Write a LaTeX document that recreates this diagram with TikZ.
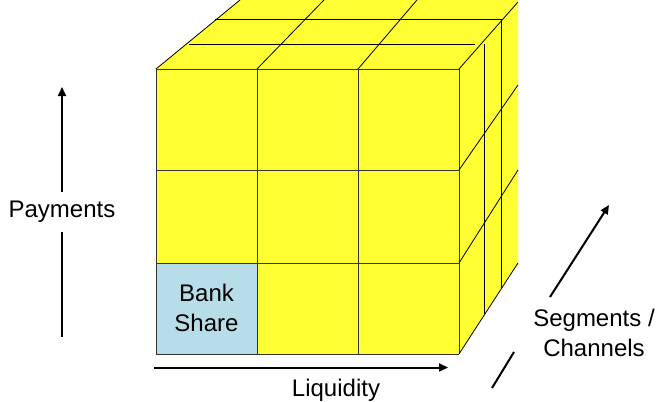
\documentclass[tikz,border=0pt]{standalone}
\usepackage{fontspec}
\setmainfont{Liberation Sans}
\usetikzlibrary{arrows.meta}
\definecolor{cubeyellow}{RGB}{255,255,51}
\definecolor{shareblue}{RGB}{183,222,232}

\begin{document}
\begin{tikzpicture}[x=1pt,y=-1pt,
    axis/.style={line width=2pt,-{Triangle[length=9pt,width=8pt]}},
    txt/.style={font=\fontsize{24}{30}\selectfont,align=center,inner sep=0pt},
    front/.style={line width=1pt,draw=black!80},
    edge/.style={line width=0.8pt,draw=black}]
\useasboundingbox (0,0) rectangle (657,402);
% cube faces
\fill[cubeyellow] (156,69) -- (240,0) -- (518,0) -- (518,263) -- (459,354) -- (156,354) -- cycle;
\fill[shareblue] (156,263) rectangle (257,354);
% front face
\foreach \x in {156,257,358,459}
  \draw[front] (\x,69) -- (\x,354);
\foreach \y in {69,170,263,354}
  \draw[front] (156,\y) -- (459,\y);
% top face
\foreach \xa/\xb in {156/240,257/324,358/417}
  \draw[edge] (\xa,69) -- (\xb,0);
\draw[edge] (189,44) -- (475,44);
\draw[edge] (215,19) -- (502,19);
% right face
\foreach \ya/\yb in {69/2,170/85,263/170,354/263}
  \draw[edge] (459,\ya) -- (518,\yb);
\draw[edge] (484,44) -- (484,314);
\draw[edge] (501,19) -- (501,289);

\node[txt] (share) at (206.5,308) {Bank\\Share};

% axes
\coordinate (pay0) at (62,337);
\coordinate (pay1) at (62,87);
\draw[axis] (pay0) -- (pay1) node[midway,txt,fill=white,inner ysep=9pt] (pay) {Payments};

\coordinate (liq0) at (154,367.5);
\coordinate (liq1) at (448,367.5);
\draw[axis] (liq0) -- (liq1);
\node[txt,anchor=north] (liq) at (336,379) {Liquidity};

\coordinate (seg0) at (492,388);
\coordinate (seg1) at (514,352);
\coordinate (seg2) at (550,297);
\coordinate (seg3) at (609,205);
\draw[line width=2pt] (seg0) -- (seg1);
\draw[axis] (seg2) -- (seg3);
\node[txt] (seg) at (594,333) {Segments /\\Channels};
\end{tikzpicture}
\end{document}
